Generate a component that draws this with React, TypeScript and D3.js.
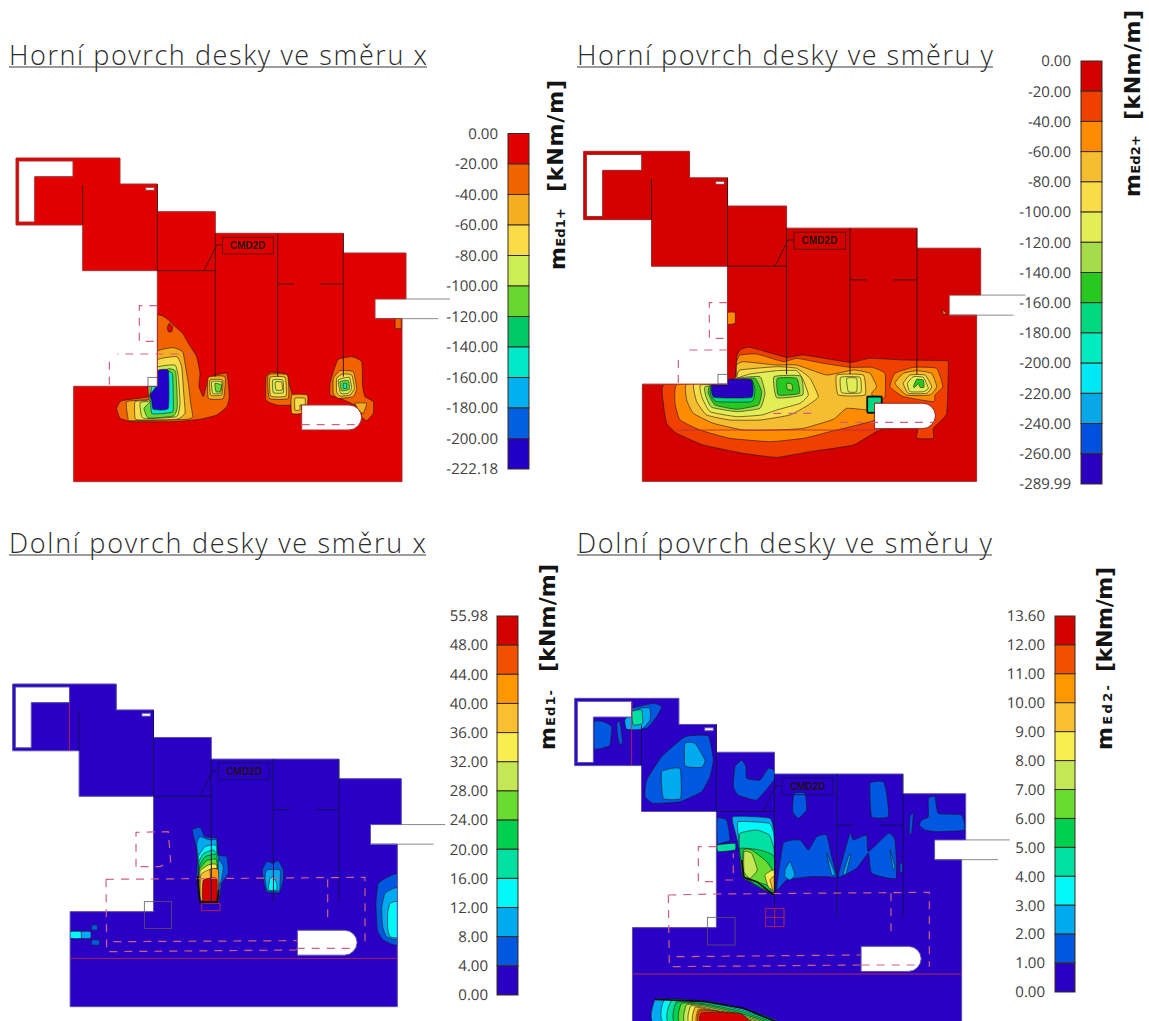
import React, { useEffect, useRef } from 'react';
import * as d3 from 'd3';

type Pt = [number, number];
type Ring = [number, Pt[]];

// tick labels of the four colour bars
const ticksTopX = ['0.00', '-20.00', '-40.00', '-60.00', '-80.00', '-100.00', '-120.00', '-140.00', '-160.00', '-180.00', '-200.00', '-222.18'];
const ticksTopY = ['0.00', '-20.00', '-40.00', '-60.00', '-80.00', '-100.00', '-120.00', '-140.00', '-160.00', '-180.00', '-200.00', '-220.00', '-240.00', '-260.00', '-289.99'];
const ticksBotX = ['55.98', '48.00', '44.00', '40.00', '36.00', '32.00', '28.00', '24.00', '20.00', '16.00', '12.00', '8.00', '4.00', '0.00'];
const ticksBotY = ['13.60', '12.00', '11.00', '10.00', '9.00', '8.00', '7.00', '6.00', '5.00', '4.00', '3.00', '2.00', '1.00', '0.00'];

// legend colours, top to bottom
const colorsTopX = ['#e00000', '#f06400', '#f5ae20', '#f9dc48', '#ccee55', '#68d830', '#00c868', '#00e8c8', '#00b0f0', '#0060e0', '#2000c8'];
const colorsTopY = ['#d40000', '#f04000', '#ff8c00', '#f5bd30', '#f8dc48', '#e2ee55', '#a4dc4a', '#28c820', '#00d880', '#00ecc0', '#00e8f4', '#08a8e8', '#0050e0', '#2a00c0'];
const colorsBot = ['#d40000', '#f05000', '#ff9800', '#f8c030', '#f8ee50', '#c4e855', '#68dc30', '#00d050', '#00e0a0', '#00f8f8', '#00aaf0', '#0058e0', '#2a00c4'];

// slab geometry in model units
const slabOutline: Pt[] = [[48, 84], [360, 84], [360, 162], [472, 162], [472, 245], [646, 245], [646, 310], [1030, 310], [1030, 369], [1218, 369], [1218, 507], [1125, 507], [1125, 566], [1206, 566], [1206, 1055], [221, 1055], [221, 769], [472, 769], [472, 422], [248, 422], [248, 285], [48, 285]];
const holeL: Pt[] = [[56, 93], [219, 93], [219, 140], [104, 140], [104, 276], [56, 276]];
const holeSmall: Pt[] = [[437, 172], [463, 172], [463, 181], [437, 181]];
const holeRound: Pt[] = [[905, 825], [1047, 825], [1062, 828], [1074, 836], [1082, 848], [1085, 862], [1082, 876], [1074, 888], [1062, 897], [1047, 900], [905, 900]];
const wallLines: Pt[][] = [
  [[248, 165], [248, 285]],
  [[472, 162], [472, 422]],
  [[472, 422], [646, 422]],
  [[646, 310], [646, 740]],
  [[833, 310], [833, 740]],
  [[1030, 310], [1030, 740]],
  [[833, 462], [882, 462]],
  [[960, 462], [1030, 462]],
  [[612, 422], [650, 345], [668, 345]],
];
const greyLines: Pt[][] = [[[1218, 507], [1350, 507]], [[1125, 566], [1315, 566]]];
const labelBox: Pt[] = [[668, 322], [820, 372]];

// contour bands, read per panel in crop units
const ringsTopX: Ring[] = [
  [1, [[472, 560], [500, 565], [520, 585], [548, 610], [565, 640], [590, 680], [600, 730], [597, 770], [610, 800], [618, 770], [630, 742], [680, 730], [688, 800], [680, 830], [650, 855], [600, 868], [520, 875], [400, 875], [360, 865], [350, 835], [365, 812], [445, 800], [445, 769], [472, 769]]],
  [0, [[508, 580], [518, 590], [515, 605], [505, 605], [502, 592]]],
  [2, [[472, 665], [520, 653], [548, 665], [555, 700], [565, 760], [572, 820], [578, 860], [560, 868], [400, 872], [385, 870], [380, 815], [445, 808], [445, 769], [472, 769]]],
  [3, [[472, 690], [530, 680], [545, 710], [552, 800], [555, 850], [530, 868], [420, 870], [405, 865], [405, 815], [445, 810], [445, 769], [472, 769]]],
  [4, [[472, 712], [525, 705], [535, 740], [540, 820], [530, 860], [440, 866], [425, 860], [420, 818], [450, 812], [450, 769], [472, 769]]],
  [5, [[500, 718], [527, 725], [532, 830], [520, 858], [445, 864], [432, 835], [450, 815], [450, 790]]],
  [7, [[505, 725], [518, 735], [520, 840], [510, 848], [455, 850], [455, 770]]],
  [10, [[472, 722], [505, 722], [505, 835], [460, 838], [455, 810], [450, 795], [468, 770]]],
  [2, [[625, 742], [675, 740], [670, 805], [625, 805]]],
  [3, [[630, 750], [668, 750], [665, 795], [632, 795]]],
  [4, [[635, 755], [665, 755], [662, 790], [638, 790]]],
  [5, [[645, 760], [665, 765], [660, 785], [648, 785]]],
  [1, [[798, 740], [815, 727], [860, 733], [870, 770], [878, 800], [872, 825], [830, 825], [798, 810]]],
  [2, [[805, 735], [862, 735], [865, 805], [808, 805]]],
  [3, [[810, 742], [855, 742], [858, 798], [812, 798]]],
  [4, [[818, 750], [848, 750], [850, 788], [820, 788]]],
  [3, [[826, 756], [845, 756], [847, 780], [828, 780]]],
  [2, [[875, 795], [922, 795], [922, 825], [905, 825], [905, 850], [875, 850]]],
  [3, [[885, 805], [915, 805], [915, 825], [900, 825], [900, 840], [885, 840]]],
  [1, [[1000, 725], [1015, 688], [1055, 680], [1085, 695], [1088, 770], [1095, 800], [1120, 815], [1120, 850], [1100, 872], [1085, 860], [1085, 840], [1065, 825], [1020, 805], [990, 795], [990, 760]]],
  [2, [[1065, 820], [1100, 820], [1090, 850], [1080, 845]]],
  [2, [[1000, 745], [1020, 722], [1060, 725], [1070, 775], [1060, 800], [1015, 805], [1000, 790]]],
  [3, [[1010, 745], [1028, 732], [1055, 735], [1063, 775], [1050, 795], [1020, 798], [1010, 785]]],
  [4, [[1015, 750], [1048, 742], [1055, 775], [1045, 790], [1022, 790]]],
  [5, [[1020, 755], [1045, 752], [1048, 778], [1025, 782]]],
  [7, [[1030, 760], [1040, 760], [1040, 775], [1030, 775]]],
  [1, [[1186, 566], [1203, 566], [1203, 595], [1186, 595]]],
];

const ringsTopY: Ring[] = [
  [1, [[283, 762], [280, 820], [290, 880], [320, 910], [400, 945], [520, 970], [620, 982], [720, 965], [850, 945], [930, 900], [1040, 895], [1040, 925], [1090, 925], [1090, 895], [1130, 850], [1135, 700], [1125, 692], [1000, 690], [900, 685], [840, 697], [700, 675], [650, 682], [540, 652], [510, 660], [500, 680], [497, 735], [472, 762]]],
  [2, [[322, 762], [315, 820], [330, 870], [390, 900], [480, 925], [600, 935], [700, 925], [780, 905], [915, 870], [925, 820], [945, 800], [945, 730], [905, 712], [840, 712], [760, 700], [680, 685], [640, 695], [560, 672], [510, 675], [500, 695], [497, 740], [472, 762]]],
  [2, [[960, 770], [975, 730], [1030, 712], [1100, 715], [1118, 770], [1095, 795], [1090, 815], [1000, 800]]],
  [3, [[350, 762], [350, 810], [370, 850], [430, 880], [520, 900], [620, 900], [700, 895], [790, 868], [830, 835], [900, 840], [915, 820], [905, 790], [920, 770], [900, 730], [850, 720], [770, 735], [680, 705], [620, 705], [520, 695], [500, 705], [498, 740], [472, 762]]],
  [4, [[372, 762], [380, 815], [410, 855], [480, 870], [570, 870], [660, 855], [715, 825], [745, 800], [720, 745], [680, 715], [620, 710], [510, 720], [500, 740], [472, 762]]],
  [5, [[392, 765], [395, 800], [420, 845], [500, 860], [575, 855], [620, 840], [690, 820], [715, 795], [700, 750], [680, 722], [620, 722], [540, 732], [500, 745], [472, 762]]],
  [6, [[405, 770], [408, 800], [425, 832], [500, 845], [570, 835], [585, 790], [570, 740], [500, 745], [472, 762]]],
  [7, [[415, 790], [435, 825], [500, 838], [565, 825], [575, 785], [555, 745], [500, 748], [472, 762], [420, 765]]],
  [8, [[422, 795], [440, 815], [545, 815], [555, 780], [545, 750], [500, 750], [425, 765]]],
  [13, [[425, 765], [472, 765], [475, 748], [545, 750], [545, 802], [432, 802]]],
  [6, [[612, 740], [692, 738], [698, 795], [620, 803]]],
  [7, [[622, 745], [680, 745], [688, 790], [625, 795]]],
  [6, [[650, 760], [665, 762], [668, 780], [652, 778]]],
  [4, [[800, 735], [880, 735], [885, 795], [805, 795]]],
  [5, [[812, 742], [870, 742], [872, 788], [815, 788]]],
  [5, [[830, 745], [860, 745], [860, 785], [835, 785]]],
  [3, [[975, 760], [1000, 730], [1040, 722], [1085, 730], [1100, 770], [1080, 795], [1010, 795]]],
  [4, [[1000, 760], [1020, 735], [1065, 735], [1085, 770], [1070, 790], [1015, 790]]],
  [5, [[1012, 760], [1030, 740], [1060, 742], [1075, 775], [1060, 785], [1020, 785]]],
  [7, [[1030, 770], [1040, 748], [1060, 750], [1062, 772], [1050, 772], [1045, 760], [1035, 772]]],
  [2, [[472, 548], [495, 548], [495, 580], [472, 582]]],
  [2, [[1118, 540], [1130, 550], [1120, 553]]],
  [8, [[892, 800], [935, 800], [935, 822], [915, 822], [915, 848], [892, 848]]],
];

const ringsBotX: Ring[] = [
  [11, [[577, 480], [600, 472], [615, 500], [650, 505], [655, 555], [680, 560], [685, 610], [665, 640], [655, 695], [600, 695], [590, 620], [592, 570], [588, 530]]],
  [10, [[590, 520], [600, 500], [630, 510], [650, 510], [652, 560], [670, 590], [660, 640], [600, 640], [595, 580]]],
  [9, [[595, 560], [615, 530], [635, 525], [650, 530], [648, 640], [600, 640]]],
  [8, [[597, 575], [612, 550], [640, 540], [655, 560], [650, 650], [600, 650]]],
  [7, [[598, 590], [615, 560], [650, 555], [650, 660], [600, 660]]],
  [6, [[598, 600], [620, 572], [650, 570], [650, 670], [600, 670]]],
  [4, [[600, 605], [625, 585], [650, 585], [650, 680], [600, 680]]],
  [3, [[602, 615], [625, 600], [652, 598], [652, 690], [602, 690]]],
  [2, [[630, 600], [655, 600], [655, 690], [640, 690]]],
  [0, [[610, 630], [650, 625], [650, 692], [608, 692]]],
  [11, [[787, 600], [800, 575], [820, 580], [835, 572], [850, 600], [850, 630], [838, 668], [800, 665], [790, 630]]],
  [10, [[795, 625], [800, 600], [840, 600], [840, 640], [838, 662], [802, 662]]],
  [9, [[810, 625], [820, 620], [830, 640], [830, 660], [805, 660]]],
  [11, [[1128, 700], [1135, 640], [1170, 618], [1195, 618], [1195, 822], [1150, 810], [1132, 780]]],
  [10, [[1145, 715], [1155, 670], [1195, 655], [1195, 805], [1160, 800], [1148, 770]]],
  [9, [[1163, 730], [1170, 700], [1195, 697], [1195, 800], [1170, 800], [1163, 775]]],
  [9, [[210, 785], [245, 785], [245, 805], [210, 805]]],
  [10, [[245, 785], [272, 785], [272, 805], [245, 805]]],
  [11, [[275, 765], [292, 765], [292, 780], [275, 780]]],
  [11, [[275, 810], [298, 810], [298, 825], [275, 825]]],
];

const ringsBotY: Ring[] = [
  [11, [[73, 125], [100, 125], [125, 140], [120, 195], [95, 205], [73, 205]]],
  [11, [[140, 130], [150, 125], [158, 185], [150, 195], [143, 170]]],
  [11, [[175, 115], [185, 85], [250, 70], [275, 80], [260, 110], [230, 145], [170, 145]]],
  [10, [[165, 118], [210, 85], [240, 85], [240, 120], [215, 148], [170, 148]]],
  [8, [[185, 95], [215, 90], [218, 130], [190, 135]]],
  [11, [[225, 350], [230, 300], [275, 230], [345, 170], [415, 168], [430, 240], [420, 290], [395, 335], [330, 365], [250, 370]]],
  [10, [[345, 190], [375, 190], [405, 240], [395, 262], [345, 258]]],
  [10, [[275, 275], [330, 265], [332, 355], [280, 355]]],
  [11, [[490, 320], [495, 260], [515, 240], [528, 260], [530, 295], [570, 300], [595, 265], [612, 270], [612, 300], [560, 360], [505, 345]]],
  [11, [[672, 340], [705, 340], [710, 390], [685, 415], [668, 395]]],
  [11, [[900, 310], [940, 305], [950, 340], [955, 410], [905, 410]]],
  [11, [[1075, 355], [1095, 350], [1105, 400], [1175, 405], [1183, 450], [1100, 455], [1065, 450], [1048, 435], [1055, 420], [1075, 410]]],
  [11, [[1020, 410], [1030, 400], [1025, 460], [1018, 460]]],
  [11, [[442, 415], [470, 420], [480, 480], [450, 490], [442, 490]]],
  [8, [[442, 495], [495, 490], [495, 510], [445, 515]]],
  [10, [[488, 410], [600, 415], [614, 470], [614, 645], [580, 620], [520, 595], [510, 520], [498, 465]]],
  [9, [[505, 425], [598, 430], [612, 470], [612, 640], [520, 590], [510, 510], [505, 465]]],
  [8, [[510, 460], [560, 450], [598, 465], [612, 510], [612, 640], [520, 590], [508, 510]]],
  [7, [[510, 505], [570, 510], [612, 530], [612, 640], [520, 590], [515, 550]]],
  [6, [[520, 510], [545, 510], [590, 545], [612, 580], [612, 640], [590, 615], [520, 590]]],
  [5, [[522, 515], [545, 520], [562, 570], [540, 595], [522, 575]]],
  [4, [[585, 585], [612, 570], [612, 630], [595, 620]]],
  [3, [[600, 600], [612, 590], [612, 640]]],
  [11, [[620, 630], [640, 490], [690, 480], [715, 510], [740, 470], [770, 465], [785, 530], [800, 590], [770, 590], [720, 590], [650, 600]]],
  [11, [[805, 590], [840, 460], [850, 480], [890, 465], [895, 515], [955, 460], [975, 480], [978, 595], [905, 580], [895, 520], [860, 565]]],
  [10, [[645, 570], [660, 545], [675, 585], [660, 600], [645, 590]]],
  [10, [[770, 520], [795, 580], [785, 585]]],
  [10, [[835, 530], [820, 580], [828, 582], [842, 525]]],
  [10, [[960, 510], [975, 560], [970, 570]]],
  [11, [[990, 550], [997, 550], [997, 575], [990, 575]]],
  [10, [[255, 958], [290, 958], [400, 965], [520, 985], [630, 1030], [255, 1030]]],
  [9, [[285, 958], [420, 965], [530, 990], [625, 1030], [285, 1030]]],
  [8, [[305, 962], [415, 968], [522, 992], [615, 1030], [300, 1030]]],
  [7, [[320, 966], [410, 972], [515, 995], [605, 1030], [318, 1030]]],
  [6, [[335, 970], [405, 975], [505, 998], [595, 1030], [333, 1030]]],
  [5, [[350, 974], [405, 979], [495, 1000], [585, 1030], [348, 1030]]],
  [4, [[362, 978], [405, 983], [485, 1002], [575, 1030], [360, 1030]]],
  [3, [[375, 982], [410, 987], [478, 1004], [565, 1030], [372, 1030]]],
  [2, [[385, 988], [420, 990], [475, 1000], [555, 1030], [383, 1030]]],
  [1, [[388, 992], [430, 993], [500, 1000], [548, 1030], [388, 1030]]],
  [0, [[395, 998], [510, 1000], [532, 1024], [395, 1030]]],
];

// extra drawn lines per panel (crop units)
const dashTopX: Pt[][] = [[[472, 527], [418, 527], [418, 634], [465, 634]], [[580, 672], [352, 672]], [[328, 695], [328, 769]], [[905, 884], [1075, 884]]];
const dashTopY: Pt[][] = [[[472, 518], [418, 518], [418, 625], [465, 625]], [[472, 660], [352, 660]], [[325, 690], [325, 762]], [[610, 850], [740, 850]], [[810, 877], [1090, 877]]];
const dashBotX: Pt[][] = [[[408, 590], [408, 487], [505, 485], [512, 575], [480, 590], [408, 590]], [[318, 628], [1095, 622], [1095, 835]], [[318, 628], [320, 845], [890, 840]], [[340, 815], [890, 812]], [[983, 628], [983, 755]], [[890, 835], [1070, 835]]];
const dashBotY: Pt[][] = [[[440, 500], [385, 500], [385, 605], [435, 605]], [[465, 600], [490, 600], [490, 520]], [[295, 645], [440, 642], [1078, 637], [1078, 860]], [[295, 645], [298, 860], [870, 855]], [[320, 830], [870, 825]], [[963, 640], [963, 770]], [[875, 855], [1050, 855]]];
const solidBotX: Pt[][] = [[[212, 865], [1190, 865]], [[208, 100], [208, 243]], [[605, 700], [660, 700], [660, 722], [605, 722], [605, 700]]];
const solidBotY: Pt[][] = [[[190, 882], [1172, 882]], [[185, 65], [185, 255]], [[587, 685], [642, 685], [642, 740], [587, 740], [587, 685]], [[587, 712], [642, 712]], [[614, 685], [614, 740]]];
const solidTopY: Pt[][] = [[[320, 900], [930, 900]]];
const greyBoxTopX: Pt[] = [[444, 742], [472, 769]];
const greyBoxTopY: Pt[] = [[444, 733], [472, 762]];
const greyBoxBotX: Pt[] = [[433, 695], [515, 775]];
const greyBoxBotY: Pt[] = [[412, 712], [495, 795]];
const heavyTopY: Pt[][] = [[[892, 848], [892, 800], [935, 800], [935, 820]], [[892, 848], [914, 848]]];
const heavyBotX: Pt[][] = [[[592, 620], [600, 697], [652, 695], [656, 660]]];
const heavyBotY: Pt[][] = [[[515, 540], [522, 592], [560, 605], [612, 645]], [[255, 958], [400, 964], [520, 985], [630, 1030]]];

const panels = [
  {
    id: 'a', title: 'Horní povrch desky ve směru x', titleX: 9, titleW: 418, titleY: 65,
    crop: [0, 130], mx: [48, 1218], my: [84, 1055], sx: [48, 1218], sy: [84, 1055],
    rings: ringsTopX, colors: colorsTopX, base: 0, edge: '#a83030', wall: '#4a1010',
    dash: dashTopX, solid: [] as Pt[][], heavy: [] as Pt[][], greyBox: greyBoxTopX,
    ticks: ticksTopX, barY: [133.5, 469], barX: [508, 529], labelX: 498,
    unit: [563, 192, 112], sym: ['m', 'Ed1+', 565, 270, 62],
  },
  {
    id: 'b', title: 'Horní povrch desky ve směru y', titleX: 577, titleW: 416, titleY: 65,
    crop: [570, 130], mx: [48, 1218], my: [84, 1055], sx: [41, 1232], sy: [64, 1054],
    rings: ringsTopY, colors: colorsTopY, base: 0, edge: '#a02828', wall: '#400c0c',
    dash: dashTopY, solid: solidTopY, heavy: heavyTopY, greyBox: greyBoxTopY,
    ticks: ticksTopY, barY: [61, 484], barX: [1081, 1102], labelX: 1071,
    unit: [1140, 120, 110], sym: ['m', 'Ed2+', 1140, 197, 62],
  },
  {
    id: 'c', title: 'Dolní povrch desky ve směru x', titleX: 9, titleW: 417, titleY: 553,
    crop: [0, 670], mx: [48, 1218], my: [84, 1055], sx: [38, 1204], sy: [42, 1010],
    rings: ringsBotX, colors: colorsBot, base: 12, edge: '#5a50b0', wall: '#14105a',
    dash: dashBotX, solid: solidBotX, heavy: heavyBotX, greyBox: greyBoxBotX,
    ticks: ticksBotX, barY: [616, 995], barX: [497, 518], labelX: 488,
    unit: [555, 672, 108], sym: ['m', 'Ed1-', 555, 750, 60],
  },
  {
    id: 'd', title: 'Dolní povrch desky ve směru y', titleX: 577, titleW: 415, titleY: 553,
    crop: [570, 680], mx: [48, 1218], my: [84, 1055], sx: [14, 1187], sy: [55, 1030],
    rings: ringsBotY, colors: colorsBot, base: 12, edge: '#5a50b0', wall: '#14105a',
    dash: dashBotY, solid: solidBotY, heavy: heavyBotY, greyBox: greyBoxBotY,
    ticks: ticksBotY, barY: [616, 992], barX: [1055, 1075], labelX: 1045,
    unit: [1112, 672, 105], sym: ['m', 'Ed2-', 1112, 750, 65],
  },
];

const App = () => {
  const svgRef = useRef<SVGSVGElement | null>(null);

  useEffect(() => {
    const svg = d3.select(svgRef.current);
    svg.selectAll('*').remove();

    const defs = svg.append('defs');
    defs.append('filter').attr('id', 'soft').attr('x', '-5%').attr('y', '-5%').attr('width', '110%').attr('height', '110%')
      .append('feGaussianBlur').attr('stdDeviation', 0.55);

    panels.forEach((p) => {
      // crop units -> page pixels
      const cx = d3.scaleLinear().domain([0, 3]).range([p.crop[0], p.crop[0] + 1]);
      const cy = d3.scaleLinear().domain([0, 3]).range([p.crop[1], p.crop[1] + 1]);
      // model units -> crop units
      const mx = d3.scaleLinear().domain(p.mx).range(p.sx);
      const my = d3.scaleLinear().domain(p.my).range(p.sy);

      const modelLine = d3.line<Pt>().x((d) => cx(mx(d[0]))).y((d) => cy(my(d[1])));
      const cropLine = d3.line<Pt>().x((d) => cx(d[0])).y((d) => cy(d[1]));
      const blob = d3.line<Pt>().x((d) => cx(d[0])).y((d) => cy(d[1])).curve(d3.curveCardinalClosed.tension(0.6));

      const slabPath = [slabOutline, holeL, holeSmall, holeRound].map((r) => modelLine(r) + 'Z').join('');

      defs.append('clipPath').attr('id', `clip-${p.id}`)
        .append('path').attr('d', slabPath).attr('clip-rule', 'evenodd');

      const plot = svg.append('g').attr('filter', 'url(#soft)');

      plot.append('path').attr('d', slabPath).attr('fill-rule', 'evenodd').attr('fill', p.colors[p.base]);

      const bands = plot.append('g').attr('clip-path', `url(#clip-${p.id})`);
      bands.selectAll('path.band').data(p.rings).join('path')
        .attr('class', 'band')
        .attr('d', (d) => blob(d[1]))
        .attr('fill', (d) => p.colors[Math.min(d[0], p.colors.length - 1)])
        .attr('stroke', '#201818')
        .attr('stroke-width', 0.6);

      plot.selectAll('path.grey').data(greyLines).join('path')
        .attr('class', 'grey')
        .attr('d', (d) => modelLine(d))
        .attr('fill', 'none').attr('stroke', '#8a8a8a').attr('stroke-width', 1);

      plot.append('path').attr('d', slabPath).attr('fill', 'none').attr('stroke', p.edge).attr('stroke-width', 1);

      plot.selectAll('path.wall').data(wallLines).join('path')
        .attr('class', 'wall')
        .attr('d', (d) => modelLine(d))
        .attr('fill', 'none').attr('stroke', p.wall).attr('stroke-width', 1);

      plot.selectAll('path.solid').data(p.solid).join('path')
        .attr('class', 'solid')
        .attr('d', (d) => cropLine(d))
        .attr('fill', 'none').attr('stroke', '#c02848').attr('stroke-width', 0.9);

      plot.selectAll('path.dash').data(p.dash).join('path')
        .attr('class', 'dash')
        .attr('d', (d) => cropLine(d))
        .attr('fill', 'none').attr('stroke', '#d06080').attr('stroke-width', 1.2)
        .attr('stroke-dasharray', '8 7');

      plot.selectAll('path.heavy').data(p.heavy).join('path')
        .attr('class', 'heavy')
        .attr('d', (d) => cropLine(d))
        .attr('fill', 'none').attr('stroke', '#080808').attr('stroke-width', 1.6);

      plot.append('rect')
        .attr('x', cx(p.greyBox[0][0])).attr('y', cy(p.greyBox[0][1]))
        .attr('width', cx(p.greyBox[1][0]) - cx(p.greyBox[0][0]))
        .attr('height', cy(p.greyBox[1][1]) - cy(p.greyBox[0][1]))
        .attr('fill', 'none').attr('stroke', '#5a5a60').attr('stroke-width', 0.8);

      plot.append('rect')
        .attr('x', cx(mx(labelBox[0][0]))).attr('y', cy(my(labelBox[0][1])))
        .attr('width', cx(mx(labelBox[1][0])) - cx(mx(labelBox[0][0])))
        .attr('height', cy(my(labelBox[1][1])) - cy(my(labelBox[0][1])))
        .attr('fill', 'none').attr('stroke', p.wall).attr('stroke-width', 0.8);

      plot.append('text')
        .attr('x', cx(mx(744))).attr('y', cy(my(347)) + 3.5)
        .attr('text-anchor', 'middle')
        .style('font-family', '"Liberation Sans", sans-serif')
        .style('font-weight', 700)
        .style('font-size', '10px')
        .attr('fill', '#201010')
        .text('CMD2D');

      // title
      svg.append('text')
        .attr('x', p.titleX).attr('y', p.titleY)
        .attr('textLength', p.titleW).attr('lengthAdjust', 'spacing')
        .style('font-family', '"Open Sans", sans-serif').style('font-weight', 300).style('font-size', '27px')
        .attr('fill', '#2c2c2c')
        .text(p.title);
      svg.append('line')
        .attr('x1', p.titleX).attr('x2', p.titleX + p.titleW)
        .attr('y1', p.titleY + 2).attr('y2', p.titleY + 2)
        .attr('stroke', '#3a3a3a').attr('stroke-width', 1);

      // colour bar
      const barScale = d3.scalePoint<string>().domain(p.ticks).range(p.barY as [number, number]);
      const cells = p.ticks.slice(0, -1).map((t, i) => ({ from: t, to: p.ticks[i + 1], color: p.colors[i] }));
      const bar = svg.append('g');
      bar.selectAll('rect').data(cells).join('rect')
        .attr('x', p.barX[0]).attr('width', p.barX[1] - p.barX[0])
        .attr('y', (d) => barScale(d.from)!)
        .attr('height', (d) => barScale(d.to)! - barScale(d.from)!)
        .attr('fill', (d) => d.color)
        .attr('stroke', '#3a2a20').attr('stroke-width', 1);

      const axis = d3.axisLeft(barScale).tickSize(0).tickPadding(0);
      const axisG = svg.append('g')
        .attr('transform', `translate(${p.labelX},0)`)
        .call(axis);
      axisG.select('.domain').remove();
      axisG.selectAll('text')
        .style('font-family', '"Open Sans", sans-serif')
        .style('font-size', '15px')
        .attr('fill', '#404040')
        .attr('text-rendering', 'geometricPrecision');

      // rotated quantity label
      const [ux, uy, ulen] = p.unit as number[];
      svg.append('text')
        .attr('transform', `translate(${ux},${uy}) rotate(-90)`)
        .attr('textLength', ulen).attr('lengthAdjust', 'spacing')
        .style('font-family', '"DejaVu Sans", sans-serif').style('font-weight', 700).style('font-size', '22px')
        .attr('fill', '#141414')
        .text('[kNm/m]');
      const [m, sub, sx, sy, slen] = p.sym as [string, string, number, number, number];
      const symText = svg.append('text')
        .attr('transform', `translate(${sx},${sy}) rotate(-90)`)
        .attr('textLength', slen).attr('lengthAdjust', 'spacing')
        .style('font-family', '"DejaVu Sans", sans-serif').style('font-weight', 700)
        .attr('fill', '#141414');
      symText.append('tspan').style('font-size', '22px').text(m);
      symText.append('tspan').style('font-size', '13px').text(sub);
    });
  }, []);

  return <svg ref={svgRef} width={1149} height={1021} style={{ position: 'absolute', left: 0, top: 0, background: '#fff' }} />;
};

export default App;
